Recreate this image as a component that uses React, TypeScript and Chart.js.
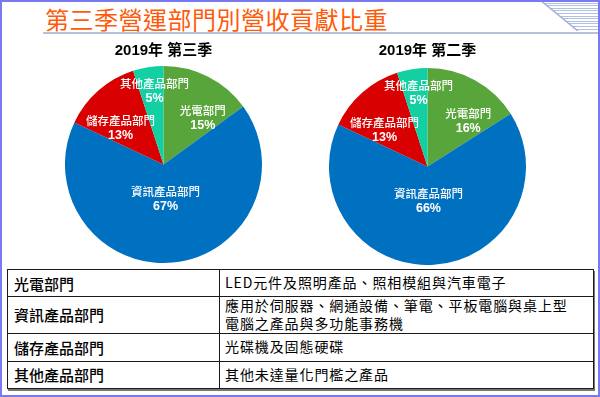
import React, { useEffect, useRef } from "react";
import { Chart, registerables } from "chart.js";

Chart.register(...registerables);

const departments = ["光電部門", "資訊產品部門", "儲存產品部門", "其他產品部門"];
const q3Values = [15, 67, 13, 5];
const q2Values = [16, 66, 13, 5];
const sliceColors = ["#58a63b", "#0070c0", "#d80000", "#12d0a2"];
const chartTitles = ["2019年 第三季", "2019年 第二季"];
const pageTitle = "第三季營運部門別營收貢獻比重";
const tableRows: [string, string[]][] = [
  ["光電部門", ["LED元件及照明產品、照相模組與汽車電子"]],
  ["資訊產品部門", ["應用於伺服器、網通設備、筆電、平板電腦與桌上型", "電腦之產品與多功能事務機"]],
  ["儲存產品部門", ["光碟機及固態硬碟"]],
  ["其他產品部門", ["其他未達量化門檻之產品"]],
];

// label placement tweaks (angle shift in degrees, fraction of radius)
const labelAngleShift = [13, 2, -8, 2];
const labelRadiusFrac = [0.62, 0.355, 0.575, 0.75];

const sliceLabelPlugin = {
  id: "sliceLabels",
  afterDatasetsDraw(chart: any) {
    const ctx = chart.ctx;
    const meta = chart.getDatasetMeta(0);
    const ds = chart.data.datasets[0];
    meta.data.forEach((arc: any, i: number) => {
      const { x, y, startAngle, endAngle, outerRadius } = arc.getProps(
        ["x", "y", "startAngle", "endAngle", "outerRadius"],
        true
      );
      const mid = (startAngle + endAngle) / 2 + (labelAngleShift[i] * Math.PI) / 180;
      const d = outerRadius * labelRadiusFrac[i];
      const px = x + Math.cos(mid) * d;
      const py = y + Math.sin(mid) * d;
      ctx.save();
      ctx.fillStyle = "#ffffff";
      ctx.textAlign = "center";
      ctx.textBaseline = "middle";
      ctx.font = '500 11.5px "Noto Sans CJK TC"';
      ctx.fillText(chart.data.labels[i], px, py - 7.5);
      ctx.font = 'bold 12.5px "Liberation Sans", Arial';
      ctx.fillText(ds.data[i] + "%", px, py + 7.5);
      ctx.restore();
    });
  },
};

function PieChart(props: {
  values: number[];
  title: string;
  left: number;
  top: number;
  padTop: number;
  padBottom: number;
}) {
  const ref = useRef<HTMLCanvasElement | null>(null);
  useEffect(() => {
    if (!ref.current) return;
    const chart = new Chart(ref.current, {
      type: "pie",
      data: {
        labels: departments,
        datasets: [
          {
            data: props.values,
            backgroundColor: sliceColors,
            borderWidth: 0,
          },
        ],
      },
      options: {
        animation: false,
        responsive: false,
        maintainAspectRatio: false,
        layout: { padding: 0 },
        plugins: {
          legend: { display: false },
          tooltip: { enabled: false },
          title: {
            display: true,
            text: props.title,
            color: "#000000",
            font: { size: 15, weight: "bold", family: '"Liberation Sans", "Noto Sans CJK TC", Arial' },
            padding: { top: props.padTop, bottom: props.padBottom },
          },
        },
      },
      plugins: [sliceLabelPlugin],
    });
    return () => chart.destroy();
  }, []);
  return (
    <canvas
      ref={ref}
      width={197}
      height={222}
      style={{ position: "absolute", left: props.left, top: props.top, width: 197, height: 222 }}
    />
  );
}

export default function App() {
  useEffect(() => {
    document.body.style.margin = "0";
  }, []);
  const cellBorder = "1.5px solid #1a1a1a";
  const rowHeights = [27, 36.5, 28, 27.5];
  return (
    <div
      style={{
        position: "fixed",
        left: 0,
        top: 0,
        width: 600,
        height: 397,
        background: "#ffffff",
        overflow: "hidden",
        fontFamily: '"Noto Sans CJK TC", sans-serif',
      }}
    >
      {/* top-right stripes */}
      <div
        style={{
          position: "absolute",
          left: 540,
          top: 0,
          width: 60,
          height: 31,
          clipPath: "polygon(0 0, 100% 0, 100% 100%, 62% 100%)",
          background:
            "repeating-linear-gradient(to bottom, #b2bfe4 0px, #b2bfe4 1px, #ffffff 1px, #ffffff 2.6px)",
        }}
      />
      <svg width={600} height={31} style={{ position: "absolute", left: 0, top: 0 }}>
        <line x1={540} y1={0} x2={578} y2={31} stroke="#9fb0e0" strokeWidth={1.5} />
      </svg>
      {/* title */}
      <div
        style={{
          position: "absolute",
          left: 45,
          top: 7,
          fontSize: 24,
          lineHeight: "24px",
          color: "#ff5a0a",
          whiteSpace: "nowrap",
          letterSpacing: 0.5,
        }}
      >
        {pageTitle}
      </div>
      <div
        style={{
          position: "absolute",
          left: 43,
          top: 32,
          width: 557,
          height: 2,
          background: "#b8c1d8",
        }}
      />
      <PieChart values={q3Values} title={chartTitles[0]} left={65} top={41} padTop={1} padBottom={6} />
      <PieChart values={q2Values} title={chartTitles[1]} left={329} top={43} padTop={-1} padBottom={8} />
      {/* table */}
      <table
        style={{
          position: "absolute",
          left: 7,
          top: 269,
          width: 586,
          borderCollapse: "collapse",
          boxShadow: "1px 2px 0 #777777",
          background: "#ffffff",
          tableLayout: "fixed",
        }}
      >
        <colgroup>
          <col style={{ width: 212 }} />
          <col style={{ width: 374 }} />
        </colgroup>
        <tbody>
          {tableRows.map((row, i) => (
            <tr key={i} style={{ height: rowHeights[i] }}>
              <td
                style={{
                  border: cellBorder,
                  padding: "0 0 0 6px",
                  fontSize: 15,
                  fontWeight: 500,
                  color: "#000",
                  verticalAlign: "middle",
                  lineHeight: "17px",
                }}
              >
                {row[0]}
              </td>
              <td
                style={{
                  border: cellBorder,
                  padding: "0 0 0 5px",
                  fontSize: 14,
                  letterSpacing: 0.9,
                  color: "#000",
                  verticalAlign: "middle",
                  lineHeight: "17.5px",
                }}
              >
                {row[1].map((line, j) => (
                  <div key={j}>{line}</div>
                ))}
              </td>
            </tr>
          ))}
        </tbody>
      </table>
      {/* slide frame */}
      <div
        style={{
          position: "absolute",
          left: 0,
          top: 0,
          width: 600,
          height: 397,
          boxSizing: "border-box",
          border: "2px solid #7a7af0",
          pointerEvents: "none",
        }}
      />
    </div>
  );
}
